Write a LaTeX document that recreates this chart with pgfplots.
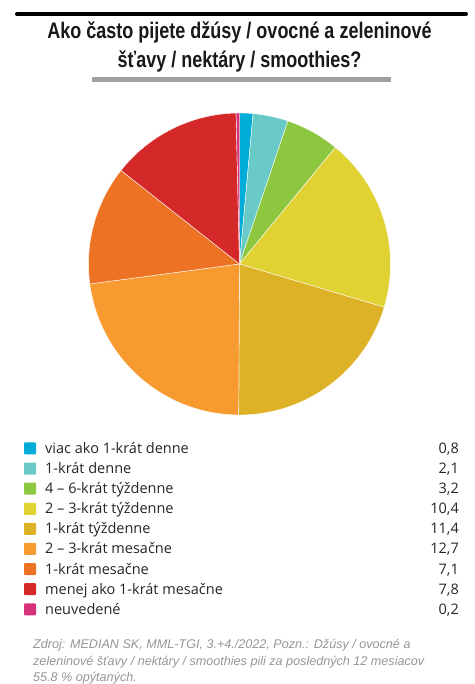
\documentclass[border=0pt]{standalone}
\usepackage{pgfplots}
\pgfplotsset{compat=1.18}
\usepackage{pgfplotstable}
\usepackage{fontspec}
\setmainfont{Open Sans}
\newfontfamily\titlefont[FakeStretch=0.8]{Liberation Sans}
\newfontfamily\notefont{Liberation Sans}

\definecolor{pie0}{RGB}{0,172,216}
\definecolor{pie1}{RGB}{106,202,200}
\definecolor{pie2}{RGB}{141,198,63}
\definecolor{pie3}{RGB}{224,210,50}
\definecolor{pie4}{RGB}{221,178,38}
\definecolor{pie5}{RGB}{247,154,48}
\definecolor{pie6}{RGB}{238,114,35}
\definecolor{pie7}{RGB}{212,41,40}
\definecolor{pie8}{RGB}{214,50,122}
\definecolor{notegray}{RGB}{150,150,150}
\definecolor{rulegray}{RGB}{160,160,160}

\pgfplotstableread[col sep=comma]{
label,value
viac ako 1-krát denne,0.8
1-krát denne,2.1
4 – 6-krát týždenne,3.2
2 – 3-krát týždenne,10.4
1-krát týždenne,11.4
2 – 3-krát mesačne,12.7
1-krát mesačne,7.1
menej ako 1-krát mesačne,7.8
neuvedené,0.2
}\piedata

% total of all answers
\gdef\pietotal{0}
\foreach \i in {0,...,8}{%
  \pgfplotstablegetelem{\i}{value}\of\piedata
  \pgfmathsetmacro\t{\pietotal+\pgfplotsretval}%
  \xdef\pietotal{\t}%
}
% start and end angle of every slice, clockwise from the top
\gdef\piecum{0}
\foreach \i in {0,...,8}{%
  \pgfplotstablegetelem{\i}{value}\of\piedata
  \pgfmathsetmacro\s{90-(360/\pietotal)*\piecum}%
  \pgfmathsetmacro\c{\piecum+\pgfplotsretval}%
  \pgfmathsetmacro\e{90-(360/\pietotal)*\c}%
  \expandafter\xdef\csname pieS\i\endcsname{\s}%
  \expandafter\xdef\csname pieE\i\endcsname{\e}%
  \xdef\piecum{\c}%
}

\begin{document}
\begin{tikzpicture}[x=1bp,y=1bp]
\useasboundingbox[fill=white] (0,0) rectangle (475,684);

% header rules and title
\draw[line width=4bp, line cap=round] (17,670) -- (466,670);
\draw[rulegray, line width=4.2bp] (92,604.5) -- (391,604.5);
\node[anchor=base, font=\titlefont\bfseries\fontsize{22.5bp}{27bp}\selectfont, text=black!90]
  at (239.5,645) {Ako často pijete džúsy / ovocné a zeleninové};
\node[anchor=base, font=\titlefont\bfseries\fontsize{22.5bp}{27bp}\selectfont, text=black!90]
  at (239.5,616) {šťavy / nektáry / smoothies?};

% pie
\begin{axis}[
  at={(239.5bp,420bp)}, anchor=center,
  x=151bp, y=151bp,
  xmin=-1, xmax=1, ymin=-1, ymax=1,
  hide axis, clip=false,
]
\pgfplotsinvokeforeach{0,...,8}{%
  \edef\temp{\noexpand\fill[pie#1, draw=white, line width=0.4bp]
    (axis cs:0,0) -- ++(\csname pieS#1\endcsname:151bp)
    arc[start angle=\csname pieS#1\endcsname, end angle=\csname pieE#1\endcsname, radius=151bp] -- cycle;}%
  \temp
}
\end{axis}

% legend with values
\foreach \i in {0,...,8}{%
  \pgfplotstablegetelem{\i}{label}\of\piedata \let\lab\pgfplotsretval
  \pgfplotstablegetelem{\i}{value}\of\piedata \let\val\pgfplotsretval
  \pgfmathsetmacro\yy{684-448.5-20.1*\i}
  \fill[pie\i, rounded corners=1bp] (24,\yy-6) rectangle (36,\yy+6);
  \node[anchor=base west, inner sep=0pt, font=\fontsize{14.5bp}{17bp}\selectfont, text=black!85]
    at (45,\yy-5) {\lab};
  \node[anchor=base east, inner sep=0pt, font=\fontsize{14.5bp}{17bp}\selectfont, text=black!85]
    at (459,\yy-5) {\pgfmathprintnumber[fixed, fixed zerofill, precision=1, use comma, assume math mode=true]{\val}};
}

% source note
\begin{scope}[every node/.style={anchor=base west, inner sep=0pt, text=notegray,
    font=\notefont\itshape\fontsize{12.6bp}{14bp}\selectfont}]
\node at (33,35) {Zdroj: MEDIAN SK, MML-TGI, 3.+4./2022, Pozn.: Džúsy / ovocné a};
\node at (33,18) {zeleninové šťavy / nektáry / smoothies pili za posledných 12 mesiacov};
\node at (33,2.5) {55.8 \% opýtaných.};
\end{scope}
\end{tikzpicture}
\end{document}
